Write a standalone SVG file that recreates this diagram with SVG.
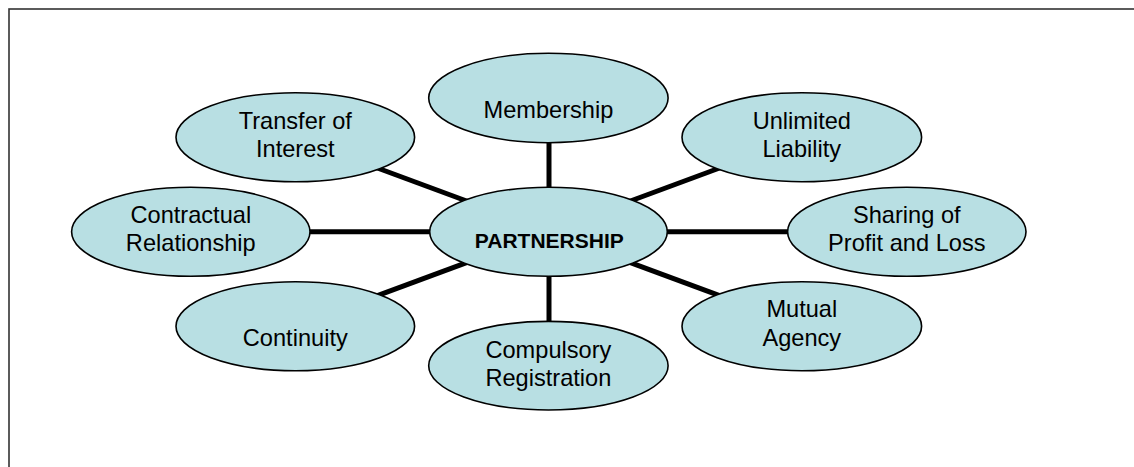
<svg xmlns="http://www.w3.org/2000/svg" width="1134" height="467" viewBox="0 0 1134 467">
<style>
.n ellipse{fill:#B8DFE3;stroke:#000;stroke-width:1.6}
.n text{font-family:"Liberation Sans",Arial,sans-serif;font-size:23.6px;fill:#000;text-anchor:middle}
.n text.c{font-weight:bold;font-size:21px}
#connectors line{stroke:#000;stroke-width:5}
</style>
<rect x="0" y="0" width="1134" height="467" fill="#fff"/>
<rect x="9" y="9" width="1140" height="480" fill="none" stroke="#333" stroke-width="1.6"/>
<g id="connectors">
<line x1="549" y1="140" x2="549" y2="190"/>
<line x1="549" y1="274" x2="549" y2="324"/>
<line x1="305" y1="231.8" x2="435" y2="231.8"/>
<line x1="662" y1="231.8" x2="792" y2="231.8"/>
<line x1="372" y1="166" x2="472" y2="203"/>
<line x1="725" y1="166" x2="625" y2="203"/>
<line x1="372" y1="297.6" x2="472" y2="260.6"/>
<line x1="725" y1="297.6" x2="625" y2="260.6"/>
</g>
<g id="membership" class="n"><ellipse cx="548.4" cy="98" rx="119.7" ry="44.7"/><text x="548.4" y="118">Membership</text></g>
<g id="transfer" class="n"><ellipse cx="295.3" cy="137.2" rx="119.3" ry="44.5"/><text x="295.3" y="129.3">Transfer of</text><text x="295.3" y="156.8">Interest</text></g>
<g id="unlimited" class="n"><ellipse cx="801.8" cy="137.2" rx="119.8" ry="44.5"/><text x="801.8" y="129.3">Unlimited</text><text x="801.8" y="156.8">Liability</text></g>
<g id="contractual" class="n"><ellipse cx="190.8" cy="231.8" rx="119.2" ry="44.5"/><text x="190.8" y="222.7">Contractual</text><text x="190.8" y="250.6">Relationship</text></g>
<g id="partnership" class="n"><ellipse cx="548.5" cy="231.8" rx="118.8" ry="44.5"/><text class="c" x="549.3" y="248">PARTNERSHIP</text></g>
<g id="sharing" class="n"><ellipse cx="906.8" cy="231.8" rx="119.2" ry="44.5"/><text x="906.8" y="222.7">Sharing of</text><text x="906.8" y="250.6">Profit and Loss</text></g>
<g id="continuity" class="n"><ellipse cx="295.3" cy="326.2" rx="119.3" ry="44.5"/><text x="295.3" y="345.7">Continuity</text></g>
<g id="compulsory" class="n"><ellipse cx="548.4" cy="365.7" rx="119.7" ry="44.3"/><text x="548.4" y="358">Compulsory</text><text x="548.4" y="385.7">Registration</text></g>
<g id="mutual" class="n"><ellipse cx="801.8" cy="326.2" rx="119.8" ry="44.5"/><text x="801.8" y="317.3">Mutual</text><text x="801.8" y="345.7">Agency</text></g>
</svg>
